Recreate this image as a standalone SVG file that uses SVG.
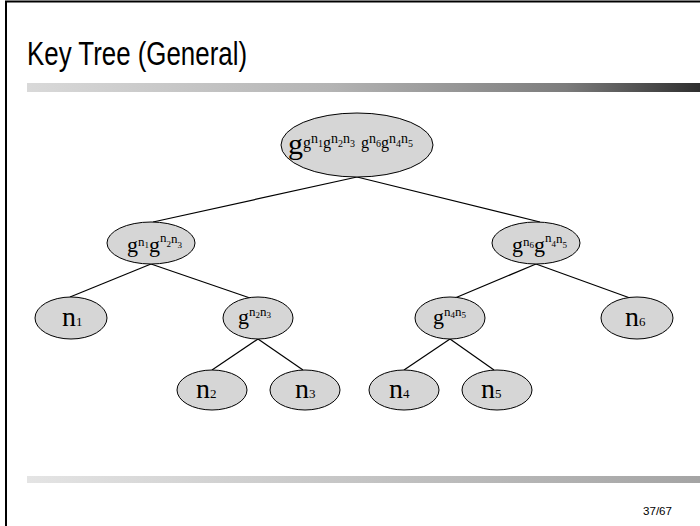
<svg xmlns="http://www.w3.org/2000/svg" width="700" height="526" viewBox="0 0 700 526">
  <defs>
    <linearGradient id="barTop" x1="0" y1="0" x2="1" y2="0">
      <stop offset="0" stop-color="#d9d9d9"/>
      <stop offset="0.45" stop-color="#b4b4b4"/>
      <stop offset="0.8" stop-color="#7c7c7c"/>
      <stop offset="1" stop-color="#2e2e2e"/>
    </linearGradient>
    <linearGradient id="barBottom" x1="0" y1="0" x2="1" y2="0">
      <stop offset="0" stop-color="#e4e4e4"/>
      <stop offset="1" stop-color="#a4a4a4"/>
    </linearGradient>
    <style>
      .node ellipse { fill: #d6d6d6; stroke: #000; stroke-width: 1; }
      .edges line { stroke: #000; stroke-width: 1.2; }
      .lbl { font-family: "Liberation Serif", "Times New Roman", serif; fill: #000; }
      .gb { font-size: 30px; }
      .g { font-size: 22px; }
      .gs { font-size: 16px; }
      .n { font-size: 13px; }
      .ns { font-size: 14px; }
      .d { font-size: 9px; }
      .ds { font-size: 10px; }
      .nl { font-size: 28px; }
      .dl { font-size: 13px; }
      .title { font-family: "Liberation Sans", Arial, sans-serif; font-size: 34px; fill: #000; }
      .page { font-family: "Liberation Sans", Arial, sans-serif; font-size: 11px; fill: #000; }
    </style>
  </defs>

  <rect width="700" height="526" fill="#fff"/>
  <!-- slide frame -->
  <path d="M6,526 V1.5 H700" fill="none" stroke="#000" stroke-width="2"/>

  <text class="title" x="27" y="65" textLength="220" lengthAdjust="spacingAndGlyphs">Key Tree (General)</text>
  <rect x="27" y="83" width="673" height="9" fill="url(#barTop)"/>
  <rect x="27" y="476" width="673" height="7" fill="url(#barBottom)"/>
  <text class="page" x="643" y="515" textLength="29" lengthAdjust="spacingAndGlyphs">37/67</text>

  <g class="edges">
    <line x1="357" y1="177" x2="153" y2="222"/>
    <line x1="357" y1="177" x2="540" y2="222"/>
    <line x1="151" y1="264" x2="70" y2="297"/>
    <line x1="151" y1="264" x2="250" y2="298"/>
    <line x1="536" y1="264" x2="455" y2="298"/>
    <line x1="536" y1="264" x2="630" y2="298"/>
    <line x1="258" y1="339" x2="212" y2="370"/>
    <line x1="258" y1="339" x2="303" y2="370"/>
    <line x1="450" y1="339" x2="404" y2="370"/>
    <line x1="450" y1="339" x2="494" y2="370"/>
  </g>

  <g id="root" class="node">
    <ellipse cx="357" cy="145" rx="76" ry="32"/>
    <text class="lbl">
      <tspan class="gb" x="288" y="154">g</tspan>
      <tspan class="gs" x="303" y="148">g</tspan>
      <tspan class="ns" x="311" y="143">n</tspan>
      <tspan class="ds" x="318" y="147">1</tspan>
      <tspan class="gs" x="323" y="148">g</tspan>
      <tspan class="ns" x="331" y="143">n</tspan>
      <tspan class="ds" x="338" y="147">2</tspan>
      <tspan class="ns" x="343" y="143">n</tspan>
      <tspan class="ds" x="350" y="147">3</tspan>
      <tspan class="gs" x="361" y="148">g</tspan>
      <tspan class="ns" x="369" y="143">n</tspan>
      <tspan class="ds" x="376" y="147">6</tspan>
      <tspan class="gs" x="381" y="148">g</tspan>
      <tspan class="ns" x="389" y="143">n</tspan>
      <tspan class="ds" x="396" y="147">4</tspan>
      <tspan class="ns" x="401" y="143">n</tspan>
      <tspan class="ds" x="408" y="147">5</tspan>
    </text>
  </g>

  <g id="k123" class="node">
    <ellipse cx="151" cy="243" rx="44" ry="21"/>
    <text class="lbl">
      <tspan class="g" x="127" y="252">g</tspan>
      <tspan class="n" x="138" y="246">n</tspan>
      <tspan class="d" x="144.5" y="248">1</tspan>
      <tspan class="g" x="149" y="252">g</tspan>
      <tspan class="n" x="160" y="242">n</tspan>
      <tspan class="d" x="166.5" y="247">2</tspan>
      <tspan class="n" x="171" y="243">n</tspan>
      <tspan class="d" x="177.5" y="248">3</tspan>
    </text>
  </g>

  <g id="k645" class="node">
    <ellipse cx="536" cy="243" rx="44" ry="21"/>
    <text class="lbl">
      <tspan class="g" x="512" y="252">g</tspan>
      <tspan class="n" x="523" y="246">n</tspan>
      <tspan class="d" x="529.5" y="248">6</tspan>
      <tspan class="g" x="534" y="252">g</tspan>
      <tspan class="n" x="545" y="242">n</tspan>
      <tspan class="d" x="551.5" y="247">4</tspan>
      <tspan class="n" x="556" y="243">n</tspan>
      <tspan class="d" x="562.5" y="248">5</tspan>
    </text>
  </g>

  <g id="n1" class="node">
    <ellipse cx="71" cy="318" rx="36" ry="21"/>
    <text class="lbl"><tspan class="nl" x="62" y="326">n</tspan><tspan class="dl" x="76" y="326">1</tspan></text>
  </g>

  <g id="k23" class="node">
    <ellipse cx="258" cy="318" rx="35" ry="21"/>
    <text class="lbl">
      <tspan class="g" x="238" y="324">g</tspan>
      <tspan class="n" x="249" y="316">n</tspan>
      <tspan class="d" x="255.5" y="318">2</tspan>
      <tspan class="n" x="260" y="316">n</tspan>
      <tspan class="d" x="266.5" y="318">3</tspan>
    </text>
  </g>

  <g id="k45" class="node">
    <ellipse cx="450" cy="318" rx="35" ry="21"/>
    <text class="lbl">
      <tspan class="g" x="433" y="324">g</tspan>
      <tspan class="n" x="444" y="316">n</tspan>
      <tspan class="d" x="450.5" y="318">4</tspan>
      <tspan class="n" x="455" y="316">n</tspan>
      <tspan class="d" x="461.5" y="318">5</tspan>
    </text>
  </g>

  <g id="n6" class="node">
    <ellipse cx="637" cy="318" rx="36" ry="21"/>
    <text class="lbl"><tspan class="nl" x="625" y="326">n</tspan><tspan class="dl" x="639" y="326">6</tspan></text>
  </g>

  <g id="n2" class="node">
    <ellipse cx="212" cy="390" rx="35" ry="20"/>
    <text class="lbl"><tspan class="nl" x="196" y="398">n</tspan><tspan class="dl" x="210" y="398">2</tspan></text>
  </g>

  <g id="n3" class="node">
    <ellipse cx="305" cy="390" rx="35" ry="20"/>
    <text class="lbl"><tspan class="nl" x="295" y="398">n</tspan><tspan class="dl" x="309" y="398">3</tspan></text>
  </g>

  <g id="n4" class="node">
    <ellipse cx="404" cy="390" rx="35" ry="20"/>
    <text class="lbl"><tspan class="nl" x="389" y="398">n</tspan><tspan class="dl" x="403" y="398">4</tspan></text>
  </g>

  <g id="n5" class="node">
    <ellipse cx="497" cy="390" rx="35" ry="20"/>
    <text class="lbl"><tspan class="nl" x="481" y="398">n</tspan><tspan class="dl" x="495" y="398">5</tspan></text>
  </g>
</svg>
